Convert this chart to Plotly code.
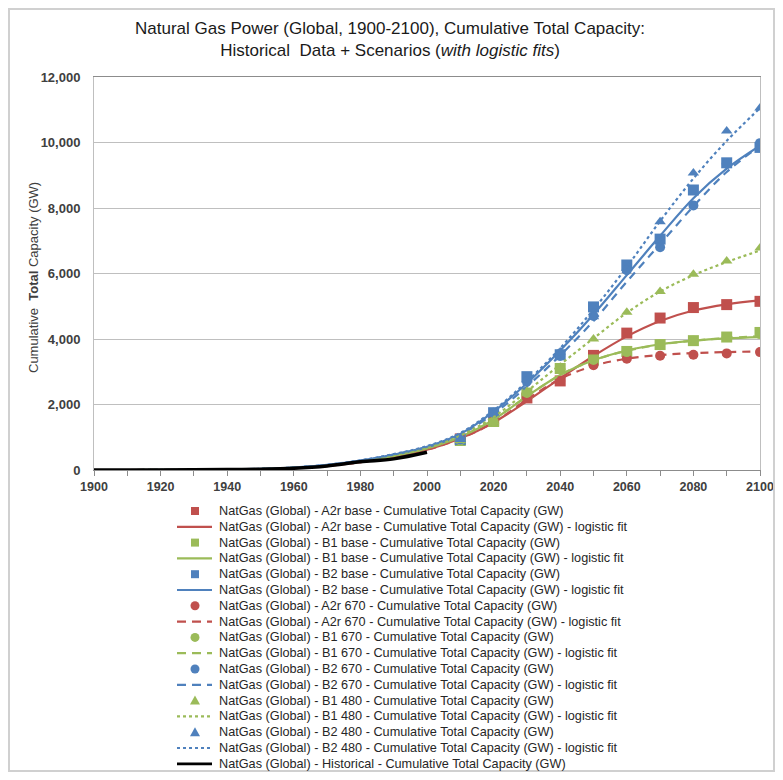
import plotly.graph_objects as go

# ---------------- data ----------------
scen_years = [2010, 2020, 2030, 2040, 2050, 2060, 2070, 2080, 2090, 2100]
fit_years = [1900, 1910, 1920, 1930, 1940, 1950, 1960, 1970, 1980, 1990, 2000,
             2010, 2020, 2030, 2040, 2050, 2060, 2070, 2080, 2090, 2100]
hist_years = [1900, 1910, 1920, 1930, 1940, 1950, 1960, 1970, 1980, 1990, 2000]

a2r_base = [950, 1500, 2200, 2720, 3500, 4180, 4640, 4960, 5050, 5150]
b1_base = [900, 1480, 2350, 3100, 3360, 3620, 3830, 3950, 4060, 4200]
b2_base = [930, 1750, 2850, 3520, 4980, 6260, 7050, 8550, 9380, 9850]
a2r_670 = [950, 1500, 2200, 2720, 3200, 3400, 3490, 3520, 3560, 3600]
b1_670 = [900, 1480, 2350, 3100, 3360, 3600, 3830, 3950, 4060, 4150]
b2_670 = [930, 1750, 2700, 3480, 4700, 6100, 6800, 8080, 9350, 9980]
b1_480 = [900, 1480, 2400, 3140, 4000, 4820, 5450, 5980, 6380, 6780]
b2_480 = [930, 1750, 2750, 3600, 4680, 6150, 7580, 9070, 10350, 11050]

a2r_base_fit = [0, 0, 2, 5, 12, 28, 60, 125, 240, 410, 620, 960, 1450, 2100, 2800,
                3480, 4080, 4550, 4870, 5060, 5180]
b1_base_fit = [0, 0, 2, 5, 12, 30, 65, 135, 255, 430, 660, 1010, 1540, 2250, 2900,
               3350, 3650, 3840, 3950, 4020, 4060]
b2_base_fit = [0, 0, 2, 6, 14, 35, 75, 155, 285, 470, 710, 1100, 1780, 2650, 3650,
               4750, 5950, 7150, 8300, 9200, 9900]
a2r_670_fit = [0, 0, 2, 5, 12, 28, 60, 125, 240, 410, 620, 960, 1450, 2150, 2780,
               3180, 3400, 3510, 3570, 3600, 3620]
b1_670_fit = [0, 0, 2, 5, 12, 30, 65, 135, 255, 430, 660, 1010, 1540, 2250, 2900,
              3350, 3640, 3830, 3950, 4030, 4080]
b2_670_fit = [0, 0, 2, 6, 14, 35, 75, 155, 285, 470, 700, 1080, 1720, 2550, 3500,
              4550, 5750, 6900, 8050, 9100, 9900]
b1_480_fit = [0, 0, 2, 5, 12, 30, 65, 140, 260, 440, 680, 1050, 1620, 2400, 3220,
              4020, 4800, 5450, 5950, 6350, 6700]
b2_480_fit = [0, 0, 2, 6, 14, 35, 75, 160, 295, 485, 730, 1130, 1820, 2700, 3720,
              4900, 6200, 7600, 8900, 10050, 11050]
historical = [0, 1, 3, 8, 15, 25, 55, 125, 250, 340, 540]

RED = "#C0504D"
GREEN = "#9BBB59"
BLUE = "#4F81BD"
DASH = "8px,6px"

pre = "NatGas (Global) - "
suf = " - Cumulative Total Capacity (GW)"

# page offset (browser body margin) and plot-area geometry in screen pixels
OFF = 8
W, H = 783 - OFF, 780 - 2 * OFF
SL, SR, ST, SB = 94, 760, 77, 470          # plot area on screen
L, R, T, B = SL - OFF, SR - OFF, ST - OFF, SB - OFF


def px(sx):
    return (sx - SL) / (SR - SL)


def py(sy):
    return (SB - sy) / (SB - ST)


fig = go.Figure()
legend_items = []  # (kind, color, style, name)


def add_pts(name, y, color, symbol, size):
    full = pre + name + suf
    fig.add_trace(go.Scatter(x=scen_years, y=y, mode="markers", name=full,
                             marker=dict(color=color, symbol=symbol, size=size,
                                         line=dict(width=0))))
    legend_items.append(("marker", color, symbol, full))


def add_fit(name, y, color, dash):
    full = pre + name + suf + " - logistic fit"
    fig.add_trace(go.Scatter(x=fit_years, y=y, mode="lines", name=full,
                             line=dict(color=color, dash=dash, width=2.2, shape="spline")))
    legend_items.append(("line", color, dash, full))


add_pts("A2r base", a2r_base, RED, "square", 11)
add_fit("A2r base", a2r_base_fit, RED, "solid")
add_pts("B1 base", b1_base, GREEN, "square", 11)
add_fit("B1 base", b1_base_fit, GREEN, "solid")
add_pts("B2 base", b2_base, BLUE, "square", 11)
add_fit("B2 base", b2_base_fit, BLUE, "solid")
add_pts("A2r 670", a2r_670, RED, "circle", 10)
add_fit("A2r 670", a2r_670_fit, RED, DASH)
add_pts("B1 670", b1_670, GREEN, "circle", 10)
add_fit("B1 670", b1_670_fit, GREEN, DASH)
add_pts("B2 670", b2_670, BLUE, "circle", 10)
add_fit("B2 670", b2_670_fit, BLUE, DASH)
add_pts("B1 480", b1_480, GREEN, "triangle-up", 10)
add_fit("B1 480", b1_480_fit, GREEN, "dot")
add_pts("B2 480", b2_480, BLUE, "triangle-up", 10)
add_fit("B2 480", b2_480_fit, BLUE, "dot")
hist_name = pre + "Historical" + suf
fig.add_trace(go.Scatter(x=hist_years, y=historical, mode="lines", name=hist_name,
                         line=dict(color="black", width=3.5, shape="spline")))
legend_items.append(("line", "black", "solid", hist_name))

# ---------------- manual legend (compact, like the original) ----------------
shapes = []
annotations = []
y_first, step = 511, 15.8
for i, (kind, color, style, name) in enumerate(legend_items):
    yc = y_first + i * step
    if kind == "line":
        shapes.append(dict(type="line", xref="paper", yref="paper",
                           x0=px(177), x1=px(212), y0=py(yc), y1=py(yc),
                           line=dict(color=color, width=2.2 if color != "black" else 2.8,
                                     dash={"solid": "solid", "dot": "dot"}.get(style, "9px,6px"))))
    else:
        s = 4
        if style == "square":
            shapes.append(dict(type="rect", xref="paper", yref="paper",
                               x0=px(195 - s), x1=px(195 + s), y0=py(yc + s), y1=py(yc - s),
                               line=dict(width=0), fillcolor=color))
        elif style == "circle":
            shapes.append(dict(type="circle", xref="paper", yref="paper",
                               x0=px(195 - s - 0.5), x1=px(195 + s + 0.5),
                               y0=py(yc + s + 0.5), y1=py(yc - s - 0.5),
                               line=dict(width=0), fillcolor=color))
        else:
            shapes.append(dict(type="path", xref="paper", yref="paper",
                               path="M {:.5f} {:.5f} L {:.5f} {:.5f} L {:.5f} {:.5f} Z".format(
                                   px(190), py(yc + 4), px(200), py(yc + 4), px(195), py(yc - 5)),
                               line=dict(width=0), fillcolor=color))
    annotations.append(dict(text=name, xref="paper", yref="paper", x=px(217), y=py(yc),
                            xanchor="left", yanchor="middle", showarrow=False,
                            font=dict(size=12.7, color="#262626",
                                      family="Liberation Sans, Arial, sans-serif")))

# y-axis title
annotations.append(dict(text="Cumulative  <b>Total</b> Capacity (GW)", xref="paper", yref="paper",
                        x=px(33), y=py(278), xanchor="center", yanchor="middle",
                        textangle=-90, showarrow=False,
                        font=dict(size=13, color="#404040",
                                  family="Liberation Sans, Arial, sans-serif")))

# frame around whole chart
shapes.append(dict(type="rect", xref="paper", yref="paper",
                   x0=px(OFF + 1), x1=px(774), y0=py(OFF + H - 1), y1=py(OFF + 1),
                   line=dict(color="#D0D0D0", width=2), fillcolor="rgba(0,0,0,0)"))

fig.update_layout(
    width=W, height=H,
    margin=dict(l=L, r=W - R, t=T, b=H - B, autoexpand=False),
    paper_bgcolor="white", plot_bgcolor="white",
    showlegend=False,
    font=dict(family="Liberation Sans, Arial, sans-serif", color="#333333"),
    title=dict(text="Natural Gas Power (Global, 1900-2100), Cumulative Total Capacity:<br>"
                    "Historical  Data + Scenarios (<i>with logistic fits</i>)",
               x=(390 - OFF) / W, xanchor="center", xref="container",
               y=1 - 26 / H, yanchor="top",
               font=dict(size=17, color="#1a1a1a", family="Liberation Sans, Arial, sans-serif")),
    xaxis=dict(range=[1900, 2100], dtick=20, tick0=1900, showgrid=False, zeroline=False,
               showline=True, linecolor="#8C8C8C", linewidth=1, mirror=True,
               ticks="outside", ticklen=5, tickcolor="#8C8C8C",
               minor=dict(dtick=10, ticks="outside", ticklen=5, tickcolor="#8C8C8C"),
               tickfont=dict(size=12.5, color="#404040", weight="bold")),
    yaxis=dict(range=[0, 12000], dtick=2000, tickformat=",", showgrid=True,
               gridcolor="#BFBFBF", gridwidth=1, zeroline=False,
               showline=True, linecolor="#BFBFBF", linewidth=1, mirror=True,
               ticks="", ticklabelstandoff=10,
               tickfont=dict(size=13, color="#404040", weight="bold")),
    shapes=shapes,
    annotations=annotations,
)

fig.write_html("out.html")
